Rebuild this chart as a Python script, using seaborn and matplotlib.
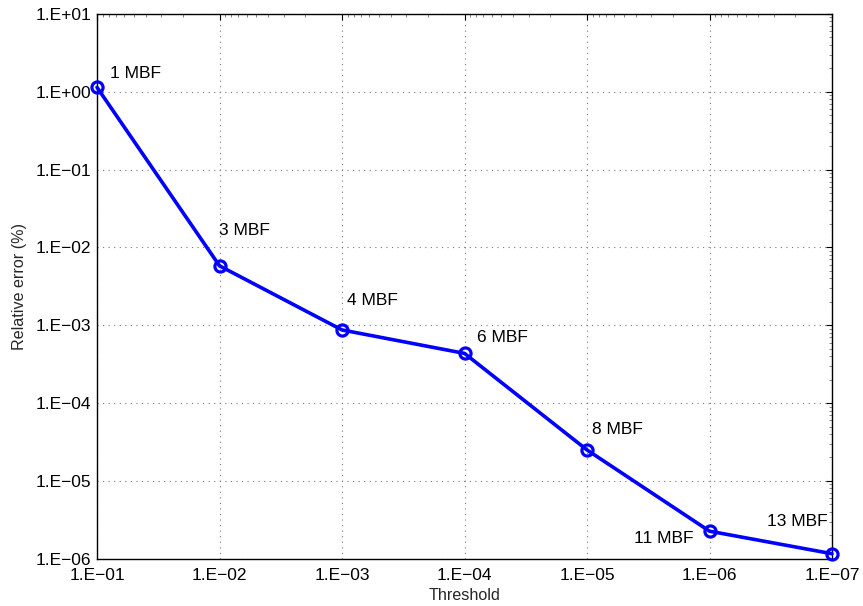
import numpy as np
import pandas as pd
import matplotlib
matplotlib.use('Agg')
import matplotlib.pyplot as plt
import matplotlib.ticker as mticker
import seaborn as sns

thresholds = [1e-1, 1e-2, 1e-3, 1e-4, 1e-5, 1e-6, 1e-7]
rel_error = [1.14, 5.8e-3, 8.7e-4, 4.35e-4, 2.5e-5, 2.26e-6, 1.16e-6]
mbf_labels = ['1 MBF', '3 MBF', '4 MBF', '6 MBF', '8 MBF', '11 MBF', '13 MBF']

# label offsets in pixels from each point, and horizontal alignment
lab_dx = [13, -1, 5, 12, 5, -16, -4]
lab_dy = [14, 35, 29, 16, 20, -7, 32]
lab_ha = ['left', 'left', 'left', 'left', 'left', 'right', 'right']

df = pd.DataFrame({'Threshold': thresholds, 'Error': rel_error})

sns.set_style('white')
plt.rcParams['font.family'] = ['Liberation Sans', 'DejaVu Sans']

fig = plt.figure(figsize=(8.63, 6.06), dpi=100)
ax = fig.add_axes([0.1124, 0.078, 0.8517, 0.899])

sns.lineplot(data=df, x='Threshold', y='Error', ax=ax, color='#0000ff', lw=2.6,
             marker='o', markersize=8, markerfacecolor='none',
             markeredgecolor='#0000ff', markeredgewidth=2.3, zorder=3, clip_on=False)

ax.set_xscale('log')
ax.set_yscale('log')
ax.set_xlim(1e-1, 1e-7)
ax.set_ylim(1e-6, 1e1)

fmt = lambda v, p: '1.E' + ('+' if v >= 1 else '\u2212') + '%02d' % abs(int(round(np.log10(v))))
ax.xaxis.set_major_locator(mticker.FixedLocator(thresholds))
ax.yaxis.set_major_locator(mticker.LogLocator(base=10, numticks=20))
ax.xaxis.set_major_formatter(mticker.FuncFormatter(fmt))
ax.yaxis.set_major_formatter(mticker.FuncFormatter(fmt))
ax.xaxis.set_minor_locator(mticker.LogLocator(base=10, subs=np.arange(2, 10), numticks=20))
ax.yaxis.set_minor_locator(mticker.LogLocator(base=10, subs=np.arange(2, 10), numticks=20))
ax.xaxis.set_minor_formatter(mticker.NullFormatter())
ax.yaxis.set_minor_formatter(mticker.NullFormatter())

ax.tick_params(which='major', direction='in', length=4, width=0.8, top=True, right=True,
               labelsize=12.5, colors='black')
ax.tick_params(axis='x', which='major', pad=7)
ax.tick_params(axis='y', which='major', pad=4)
ax.tick_params(which='minor', direction='in', length=2, width=0.5, top=True, right=True,
               color='#555555')
ax.grid(True, which='major', color='#777777', linestyle=(0, (1, 4)), linewidth=0.8)
ax.grid(False, which='minor')
for s in ax.spines.values():
    s.set_color('black')
    s.set_linewidth(1.0)

for x, y, t, dx, dy, ha in zip(thresholds, rel_error, mbf_labels, lab_dx, lab_dy, lab_ha):
    ax.annotate(t, (x, y), xytext=(dx, dy), textcoords='offset pixels',
                ha=ha, va='center', fontsize=12.5, color='black')

ax.set_xlabel('Threshold', fontsize=11.6, labelpad=3)
ax.set_ylabel('Relative error (%)', fontsize=11.6, labelpad=6)

fig.savefig('out.png', dpi=100)
